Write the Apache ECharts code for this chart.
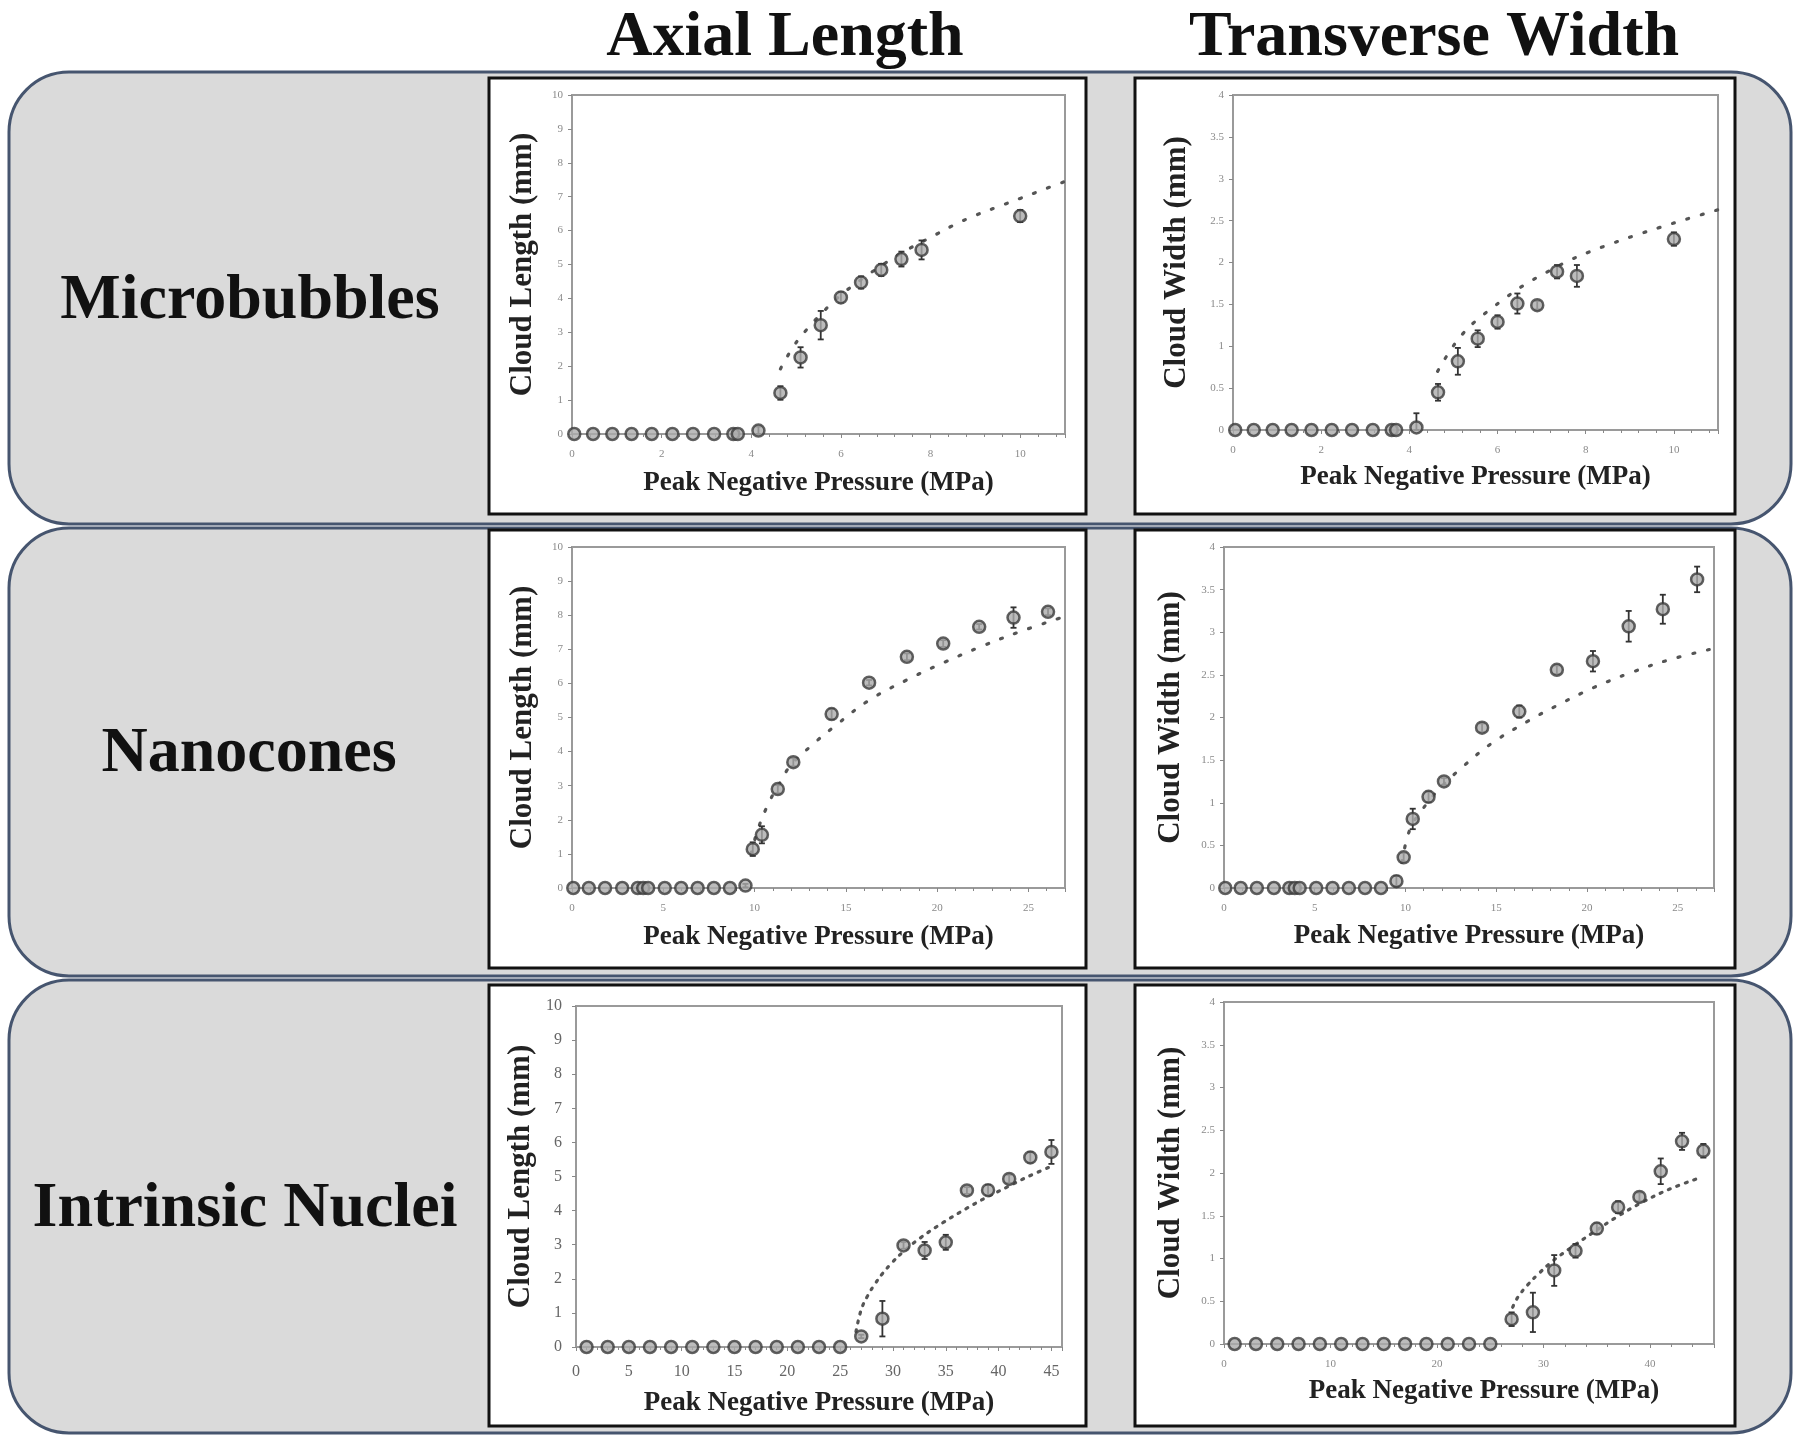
<!DOCTYPE html>
<html>
<head>
<meta charset="utf-8">
<title>Cloud length and width vs peak negative pressure</title>
<script src="https://cdn.jsdelivr.net/npm/echarts@6.0.0/dist/echarts.min.js"></script>
<style>
  html, body { margin: 0; padding: 0; background: #fff; }
  #chart { width: 1800px; height: 1439px; }
</style>
</head>
<body>
<div id="chart"></div>
<script>
// ---- values ----
const colTitles = ['Axial Length', 'Transverse Width']
const rowTitles = ['Microbubbles', 'Nanocones', 'Intrinsic Nuclei']

// microbubbles
const mbX = [0.05, 0.47, 0.9, 1.33, 1.78, 2.24, 2.7, 3.17, 3.6, 3.7, 4.16, 4.65, 5.1, 5.55, 6.0, 6.45, 6.9, 7.35, 7.8, 10.0]
const mbLen = [0, 0, 0, 0, 0, 0, 0, 0, 0, 0, 0.1, 1.21, 2.26, 3.21, 4.03, 4.47, 4.84, 5.16, 5.43, 6.43]
const mbLenErr = [0, 0, 0, 0, 0, 0, 0, 0, 0, 0, 0.12, 0.2, 0.3, 0.42, 0.15, 0.18, 0.18, 0.22, 0.28, 0.18]
const mbWid = [0, 0, 0, 0, 0, 0, 0, 0, 0, 0, 0.03, 0.45, 0.82, 1.09, 1.29, 1.51, 1.49, 1.89, 1.84, 2.28]
const mbWidErr = [0, 0, 0, 0, 0, 0, 0, 0, 0, 0, 0.17, 0.1, 0.16, 0.1, 0.08, 0.12, 0.05, 0.08, 0.13, 0.08]
const mbLenFitX = [4.65, 4.95, 5.25, 5.6, 6.0, 6.5, 7.0, 7.5, 8.0, 8.5, 9.0, 9.5, 10.0, 10.5, 11.0]
const mbLenFitY = [1.92, 2.6, 3.1, 3.6, 4.1, 4.6, 5.05, 5.45, 5.8, 6.15, 6.45, 6.7, 6.95, 7.2, 7.45]
const mbWidFitX = [4.64, 4.94, 5.23, 5.5, 5.86, 6.16, 6.6, 7.1, 7.65, 8.1, 8.56, 9.1, 9.69, 10.3, 11.0]
const mbWidFitY = [0.7, 0.96, 1.16, 1.3, 1.45, 1.57, 1.73, 1.88, 2.03, 2.13, 2.22, 2.32, 2.42, 2.52, 2.63]

// nanocones
const ncX = [0.07, 0.92, 1.81, 2.75, 3.6, 3.9, 4.17, 5.08, 5.98, 6.88, 7.77, 8.65, 9.5, 9.9, 10.4, 11.27, 12.12, 14.22, 16.27, 18.34, 20.33, 22.3, 24.18, 26.07]
const ncLen = [0, 0, 0, 0, 0, 0, 0, 0, 0, 0, 0, 0, 0.07, 1.14, 1.56, 2.9, 3.69, 5.1, 6.02, 6.78, 7.17, 7.66, 7.93, 8.1]
const ncLenErr = [0, 0, 0, 0, 0, 0, 0, 0, 0, 0, 0, 0, 0.05, 0.2, 0.25, 0.12, 0.12, 0.15, 0.08, 0.1, 0.1, 0.08, 0.3, 0.1]
const ncWid = [0, 0, 0, 0, 0, 0, 0, 0, 0, 0, 0, 0, 0.08, 0.36, 0.81, 1.07, 1.25, 1.88, 2.07, 2.56, 2.66, 3.07, 3.27, 3.62]
const ncWidErr = [0, 0, 0, 0, 0, 0, 0, 0, 0, 0, 0, 0, 0.06, 0.05, 0.12, 0.06, 0.04, 0.05, 0.07, 0.05, 0.12, 0.18, 0.17, 0.15]
const ncLenFitX = [9.8, 10.2, 10.79, 11.4, 11.98, 13.12, 14.33, 16.25, 18.33, 20.4, 22.5, 24.6, 26.8]
const ncLenFitY = [1.0, 1.75, 2.51, 3.1, 3.6, 4.18, 4.72, 5.5, 6.1, 6.62, 7.1, 7.53, 7.93]
const ncWidFitX = [9.8, 10.23, 10.86, 11.9, 13.2, 14.77, 16.77, 18.25, 20.36, 22.47, 24.58, 27.0]
const ncWidFitY = [0.3, 0.68, 0.9, 1.17, 1.43, 1.7, 1.96, 2.13, 2.35, 2.53, 2.68, 2.81]

// intrinsic nuclei
const inX = [1, 3, 5, 7, 9, 11, 13, 15, 17, 19, 21, 23, 25, 27, 29, 31, 33, 35, 37, 39, 41, 43, 45]
const inLen = [0, 0, 0, 0, 0, 0, 0, 0, 0, 0, 0, 0, 0, 0.31, 0.83, 2.98, 2.83, 3.07, 4.59, 4.6, 4.93, 5.56, 5.72]
const inLenErr = [0, 0, 0, 0, 0, 0, 0, 0, 0, 0, 0, 0, 0, 0.05, 0.52, 0.1, 0.25, 0.22, 0.1, 0.15, 0.12, 0.15, 0.35]
const inWid = [0, 0, 0, 0, 0, 0, 0, 0, 0, 0, 0, 0, 0, 0.29, 0.37, 0.86, 1.09, 1.35, 1.6, 1.72, 2.02, 2.37, 2.26]
const inWidErr = [0, 0, 0, 0, 0, 0, 0, 0, 0, 0, 0, 0, 0, 0.08, 0.23, 0.18, 0.08, 0.06, 0.07, 0.05, 0.15, 0.1, 0.08]
const inLenFitX = [26.5, 27.0, 27.6, 28.3, 29.0, 29.9, 31.0, 32.6, 34.8, 37.0, 38.8, 41.0, 42.8, 45.0]
const inLenFitY = [0.45, 1.1, 1.5, 1.85, 2.15, 2.47, 2.8, 3.2, 3.66, 4.07, 4.38, 4.72, 5.0, 5.3]
const inWidFitX = [27.1, 27.6, 28.5, 29.6, 30.85, 32.5, 34.6, 36.8, 39.3, 41.8, 44.8]
const inWidFitY = [0.43, 0.55, 0.69, 0.83, 0.97, 1.12, 1.3, 1.48, 1.66, 1.81, 1.95]

const serif = '"Liberation Serif", "Times New Roman", serif'

// one entry per small plot: position of the plot area and axis setup
const panels = [
  { grid: [572, 95, 493, 339], xMax: 11, xStep: 2, xMinor: 5, yMax: 10, yStep: 1, yName: 'Cloud Length (mm)',
    x: mbX, y: mbLen, err: mbLenErr, fx: mbLenFitX, fy: mbLenFitY, yGap: 34, xGap: 36 },
  { grid: [1233, 95, 485, 335], xMax: 11, xStep: 2, xMinor: 5, yMax: 4, yStep: 0.5, yName: 'Cloud Width (mm)',
    x: mbX, y: mbWid, err: mbWidErr, fx: mbWidFitX, fy: mbWidFitY, yGap: 41, xGap: 34 },
  { grid: [572, 547, 493, 341], xMax: 27, xStep: 5, xMinor: 5, yMax: 10, yStep: 1, yName: 'Cloud Length (mm)',
    x: ncX, y: ncLen, err: ncLenErr, fx: ncLenFitX, fy: ncLenFitY, yGap: 34, xGap: 36 },
  { grid: [1224, 547, 490, 341], xMax: 27, xStep: 5, xMinor: 5, yMax: 4, yStep: 0.5, yName: 'Cloud Width (mm)',
    x: ncX, y: ncWid, err: ncWidErr, fx: ncWidFitX, fy: ncWidFitY, yGap: 38, xGap: 35 },
  { grid: [576, 1006, 486, 341], xMax: 46, xStep: 5, xMinor: 5, yMax: 10, yStep: 1, yName: 'Cloud Length (mm)',
    x: inX, y: inLen, err: inLenErr, fx: inLenFitX, fy: inLenFitY, yGap: 40, xGap: 43,
    labelSize: 16, labelColor: '#666', dash: [2, 7] },
  { grid: [1224, 1002, 490, 342], xMax: 46, xStep: 10, xMinor: 5, yMax: 4, yStep: 0.5, yName: 'Cloud Width (mm)',
    x: inX, y: inWid, err: inWidErr, fx: inWidFitX, fy: inWidFitY, yGap: 38, xGap: 34, xShift: 30, dash: [2, 7] }
]

function errorBars(params, api) {
  const x = api.value(0), y = api.value(1), e = api.value(2)
  if (!e) return null
  const hi = api.coord([x, y + e])
  const lo = api.coord([x, Math.max(0, y - e)])
  const c = 3
  const style = { stroke: '#333', lineWidth: 1.8 }
  return {
    type: 'group',
    children: [
      { type: 'line', shape: { x1: hi[0], y1: hi[1], x2: lo[0], y2: lo[1] }, style },
      { type: 'line', shape: { x1: hi[0] - c, y1: hi[1], x2: hi[0] + c, y2: hi[1] }, style },
      { type: 'line', shape: { x1: lo[0] - c, y1: lo[1], x2: lo[0] + c, y2: lo[1] }, style }
    ]
  }
}

const grids = [], xAxes = [], yAxes = [], series = []
panels.forEach((p, i) => {
  const labelSize = p.labelSize || 11
  const labelColor = p.labelColor || '#8a8a8a'
  grids.push({
    left: p.grid[0], top: p.grid[1], width: p.grid[2], height: p.grid[3],
    show: true, backgroundColor: 'transparent', borderColor: '#9a9a9a', borderWidth: 2,
    outerBoundsMode: 'none', z: 3
  })
  xAxes.push({
    gridIndex: i, type: 'value', min: 0, max: p.xMax, interval: p.xStep, z: 3,
    name: 'Peak Negative Pressure (MPa)', nameLocation: 'middle', nameGap: p.xGap, nameMoveOverlap: false,
    nameTextStyle: { fontFamily: serif, fontWeight: 'bold', fontSize: 27, color: '#222', padding: [0, 0, 0, p.xShift || 0] },
    axisLine: { show: true, onZero: false, lineStyle: { color: '#9a9a9a', width: 2 } },
    axisTick: { show: true, length: 4, lineStyle: { color: '#888' } },
    minorTick: { show: true, splitNumber: p.xMinor, length: 3, lineStyle: { color: '#888' } },
    splitLine: { show: false },
    axisLabel: {
      margin: p.labelSize ? 17 : 15, fontFamily: serif, fontSize: labelSize, color: labelColor,
      showMaxLabel: false,
      formatter: v => (Math.abs(v / p.xStep - Math.round(v / p.xStep)) < 1e-6 ? String(v) : '')
    }
  })
  yAxes.push({
    gridIndex: i, type: 'value', min: 0, max: p.yMax, interval: p.yStep, z: 3,
    name: p.yName, nameLocation: 'middle', nameGap: p.yGap, nameMoveOverlap: false,
    nameTextStyle: { fontFamily: serif, fontWeight: 'bold', fontSize: 31, color: '#222' },
    axisLine: { show: true, lineStyle: { color: '#9a9a9a', width: 2 } },
    axisTick: { show: true, length: 4, lineStyle: { color: '#888' } },
    splitLine: { show: false },
    axisLabel: { margin: p.labelSize ? 14 : 9, fontFamily: serif, fontSize: labelSize, color: labelColor }
  })
  // dotted fit curve
  series.push({
    type: 'line', xAxisIndex: i, yAxisIndex: i, z: 4,
    data: p.fx.map((v, k) => [v, p.fy[k]]),
    smooth: 0.4, showSymbol: false, silent: true,
    lineStyle: { color: '#555', width: 3.2, type: p.dash || [2, 13], cap: 'round' }
  })
  // error bars
  series.push({
    type: 'custom', xAxisIndex: i, yAxisIndex: i, z: 5,
    data: p.x.map((v, k) => [v, p.y[k], p.err[k]]),
    encode: { x: 0, y: 1 },
    renderItem: errorBars
  })
  // measured points
  series.push({
    type: 'scatter', xAxisIndex: i, yAxisIndex: i, z: 6,
    data: p.x.map((v, k) => [v, p.y[k]]),
    symbol: 'circle', symbolSize: 12,
    itemStyle: { color: '#ababab', borderColor: '#3a3a3a', borderWidth: 2.5 }
  })
})

// background: grey rounded row boxes, white panel frames and the titles
const rowBoxes = [[72, 452], [528, 448], [980, 453]]
const panelFrames = [[78, 436], [530, 438], [985, 441]]
const rowLabelPos = [[250, 301], [249, 754], [245, 1209]]
const graphics = []
rowBoxes.forEach(([y, h]) => {
  graphics.push({
    type: 'rect', z: 0,
    shape: { x: 9, y: y, width: 1782, height: h, r: 60 },
    style: { fill: '#dadada', stroke: '#46556f', lineWidth: 3 }
  })
})
panelFrames.forEach(([y, h]) => {
  graphics.push({ type: 'rect', z: 1, shape: { x: 489, y: y, width: 597, height: h },
    style: { fill: '#fff', stroke: '#111', lineWidth: 3 } })
  graphics.push({ type: 'rect', z: 1, shape: { x: 1135, y: y, width: 600, height: h },
    style: { fill: '#fff', stroke: '#111', lineWidth: 3 } })
})
colTitles.forEach((t, i) => {
  graphics.push({
    type: 'text', z: 1,
    style: { text: t, x: i === 0 ? 785 : 1434, y: 38, fill: '#111',
      font: 'bold 64px ' + serif, textAlign: 'center', textVerticalAlign: 'middle' }
  })
})
rowTitles.forEach((t, i) => {
  graphics.push({
    type: 'text', z: 1,
    style: { text: t, x: rowLabelPos[i][0], y: rowLabelPos[i][1], fill: '#111',
      font: 'bold 64px ' + serif, textAlign: 'center', textVerticalAlign: 'middle' }
  })
})

const chart = echarts.init(document.getElementById('chart'), null, { renderer: 'canvas' })
chart.setOption({
  animation: false,
  backgroundColor: '#fff',
  graphic: graphics,
  grid: grids,
  xAxis: xAxes,
  yAxis: yAxes,
  series: series
})
</script>
</body>
</html>
